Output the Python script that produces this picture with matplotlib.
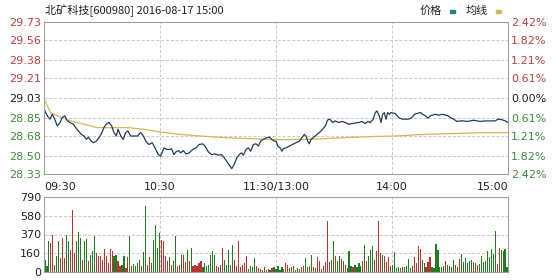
import numpy as np
import matplotlib
matplotlib.use('Agg')
import matplotlib.pyplot as plt
from matplotlib.patches import Rectangle

plt.rcParams['font.family'] = ['DejaVu Sans']

title = '北矿科技[600980] 2016-08-17 15:00'
pre_close = 29.03

# 分时价格（分钟, 价格）
price_min = [0, 1.7, 3.1, 4.3, 5.5, 6.9, 8.3, 9.5, 10.7, 12.1, 13.4, 15.2, 16.4, 17.8, 19.3,
             20.7, 21.9, 22.9, 24.1, 25.5, 27.1, 28.4, 29.7, 31.0, 32.4, 33.6, 35.0, 36.2, 37.4,
             38.3, 39.7, 41.0, 42.2, 43.4, 44.8, 46.5, 48.3, 50.0, 51.4, 52.6, 54.3, 56.0, 57.4,
             59.1, 60.3,
             62.1, 63.4, 64.8, 66.0, 67.2, 68.3, 69.5, 70.7, 72.1, 73.4, 75.2, 76.9, 78.6, 80.3,
             82.1, 83.3, 85.0, 86.7, 88.4, 90.2, 91.9, 93.3, 94.5, 95.9, 97.1, 98.3, 99.7, 101.0,
             102.2, 103.1, 104.5, 105.7, 106.9, 108.3, 109.7, 110.9, 112.1, 113.4, 115.2, 116.5,
             117.8, 119.0,
             120.0, 120.9, 122.1, 123.1, 123.8, 125.2, 126.9, 128.6, 130.3, 132.1, 133.4, 134.7,
             135.5, 136.4, 137.2, 138.1, 139.3, 140.7, 142.4, 144.1, 145.5, 146.7, 147.9, 149.3,
             150.7, 152.4, 154.1, 155.9, 157.6, 159.3, 161.0, 162.8, 164.5, 166.2, 167.4, 168.8,
             170.3, 171.4, 172.2, 173.4, 174.3, 175.2, 176.0, 176.9, 177.8, 178.6, 179.5,
             181.7, 183.4, 185.2, 186.9, 188.6, 190.3, 191.7, 192.9, 194.7, 195.9, 197.2, 198.6,
             199.8, 201.0, 202.4, 204.1, 205.9, 207.6, 209.0, 210.2, 211.9, 213.6, 215.3, 217.1,
             218.8, 220.5, 222.2, 224.0, 225.7, 228.3, 230.9, 233.4, 234.8, 236.5, 238.6, 240.0]
price_val = [28.93, 28.866, 28.835, 28.88, 28.835, 28.773, 28.804, 28.85, 28.866, 28.819, 28.804,
             28.788, 28.757, 28.726, 28.695, 28.68, 28.649, 28.67, 28.64, 28.618, 28.633, 28.664,
             28.701, 28.757, 28.794, 28.804, 28.773, 28.711, 28.68, 28.742, 28.68, 28.649, 28.711,
             28.726, 28.68, 28.68, 28.68, 28.711, 28.68, 28.633, 28.602, 28.618, 28.571, 28.509,
             28.494,
             28.571, 28.556, 28.556, 28.562, 28.509, 28.534, 28.546, 28.525, 28.546, 28.515, 28.525,
             28.556, 28.571, 28.602, 28.608, 28.587, 28.534, 28.509, 28.515, 28.503, 28.509, 28.478,
             28.447, 28.41, 28.379, 28.417, 28.478, 28.509, 28.525, 28.503, 28.556, 28.571, 28.54,
             28.602, 28.608, 28.587, 28.633, 28.649, 28.664, 28.67, 28.649, 28.633,
             28.633, 28.587, 28.571, 28.54, 28.565, 28.571, 28.587, 28.602, 28.618, 28.633, 28.664,
             28.695, 28.68, 28.633, 28.608, 28.649, 28.664, 28.686, 28.711, 28.742, 28.773, 28.827,
             28.835, 28.804, 28.819, 28.804, 28.814, 28.804, 28.788, 28.794, 28.8, 28.804, 28.814,
             28.794, 28.814, 28.804, 28.835, 28.896, 28.911, 28.866, 28.804, 28.88, 28.896, 28.835,
             28.896, 28.88, 28.896,
             28.887, 28.85, 28.835, 28.835, 28.835, 28.85, 28.88, 28.887, 28.896, 28.88, 28.866,
             28.844, 28.866, 28.872, 28.88, 28.872, 28.88, 28.872, 28.866, 28.85, 28.835, 28.814,
             28.819, 28.819, 28.814, 28.819, 28.825, 28.819, 28.814, 28.819, 28.819, 28.819, 28.835,
             28.832, 28.819, 28.804]

# 均价线
avg_min = [0, 1.7, 3.4, 6.9, 13.8, 20.7, 27.6, 34.5, 43.1, 51.7, 60.0, 70.3, 80.7, 94.5, 108.3,
           120.0, 137.2, 154.5, 171.7, 181.7, 197.2, 214.5, 226.6, 240.0]
avg_val = [29.021, 28.959, 28.896, 28.866, 28.819, 28.788, 28.757, 28.757, 28.757, 28.742, 28.717,
           28.695, 28.68, 28.664, 28.655, 28.646, 28.649, 28.664, 28.676, 28.68, 28.695, 28.704,
           28.711, 28.711]

# 成交量
vols = [130, 67, 322, 305, 385, 77, 172, 322, 147, 357,
        147, 392, 322, 228, 648, 200, 330, 417, 357, 130,
        322, 347, 112, 182, 217, 382, 200, 165, 172, 130,
        242, 165, 95, 242, 217, 165, 182, 112, 60, 77,
        165, 42, 158, 375, 67, 88, 67, 95, 130, 67,
        207, 697, 77, 158, 95, 340, 497, 252, 410, 340,
        322, 172, 112, 158, 77, 112, 382, 67, 77, 182,
        182, 102, 228, 112, 252, 60, 77, 67, 95, 112,
        53, 95, 67, 77, 182, 217, 182, 67, 53, 77,
        252, 130, 77, 235, 77, 287, 123, 67, 322, 53,
        77, 95, 165, 32, 67, 53, 147, 67, 42, 32,
        25, 53, 25, 32, 18, 42, 53, 32, 67, 25, 53,
        32, 95, 77, 42, 53, 67, 25, 42, 32, 53,
        67, 147, 53, 60, 182, 53, 42, 158, 112, 32,
        67, 102, 532, 102, 130, 322, 165, 112, 172, 137,
        112, 77, 42, 217, 60, 53, 77, 53, 95, 67,
        112, 287, 112, 165, 235, 270, 130, 217, 542, 200,
        182, 165, 102, 158, 60, 77, 207, 42, 53, 42,
        53, 53, 60, 137, 42, 67, 158, 95, 270, 242,
        130, 95, 53, 102, 158, 53, 42, 297, 235, 53,
        53, 67, 112, 77, 67, 53, 130, 77, 53, 137,
        193, 102, 147, 95, 112, 130, 102, 95, 77, 88,
        165, 102, 112, 217, 158, 242, 193, 427, 88, 252,
        235, 217, 242, 53]
vol_dir = ('gggrrgggrr' 'rggrrrgggr' 'ggrgggrrrr' 'rrrrrggrrg' 'grrgrggggr' 'ggrrgggggr'
           'rrrgrggrrg' 'rrgrgrrrrr' 'gggggggrrg' 'rgggrgrrrr' 'rrrggggrrr' 'rggrgrggggg'
           'grrgrgrggr' 'rggrgrgrrg' 'rrrrggrggr' 'grgggrgggg' 'rgrgggrrrr' 'grrrgggggr'
           'gggggrrrrr' 'grgrrggggg' 'ggrggggrgr' 'ggggggrgrg' 'ggggggggrr' 'gggg')

price_ticks = [29.73, 29.56, 29.38, 29.21, 29.03, 28.85, 28.68, 28.50, 28.33]
pct_labels = ['2.42%', '1.82%', '1.21%', '0.61%', '0.00%', '0.61%', '1.21%', '1.82%', '2.42%']
vol_ticks = [0, 197.5, 395, 592.5, 790]
vol_labels = ['0', '160', '370', '580', '790']
time_ticks = [0, 60, 120, 180, 240]
time_labels = ['09:30', '10:30', '11:30/13:00', '14:00', '15:00']

RED = '#b84040'
GREEN = '#3f8a3f'
BLACK = '#222222'
GRID = '#c8c8c8'
SPINE = '#a0a0a0'


def label_color(i):
    if i < 4:
        return RED
    if i == 4:
        return BLACK
    return GREEN


fig = plt.figure(figsize=(5.6, 2.8), dpi=100)
ax = fig.add_axes([44 / 560, 1 - 174 / 280, 464 / 560, 152 / 280])
axv = fig.add_axes([44 / 560, 1 - 272 / 280, 464 / 560, 75 / 280])

for a in (ax, axv):
    for s in a.spines.values():
        s.set_color(SPINE)
        s.set_linewidth(0.8)
    a.set_xlim(0, 240)
    a.set_xticks(time_ticks)
    a.grid(True, color=GRID, linestyle=(0, (3, 2)), linewidth=0.7)
    a.set_axisbelow(True)
    a.tick_params(length=0, labelsize=8)

# 价格
ax.plot(avg_min, avg_val, color='#d8b55a', lw=0.9)
ax.plot(price_min, price_val, color='#1f3d5a', lw=0.9)
ax.set_ylim(28.33, 29.73)
ax.set_yticks(price_ticks)
ax.set_yticklabels([f'{t:.2f}' for t in price_ticks])
for i, lab in enumerate(ax.get_yticklabels()):
    lab.set_color(label_color(i))
ax.tick_params(axis='y', pad=2)
ax.set_xticklabels(time_labels)
ax.tick_params(axis='x', pad=6, labelcolor=BLACK)
ha = ['left', 'center', 'center', 'center', 'right']
for lab, h in zip(ax.get_xticklabels(), ha):
    lab.set_ha(h)

axr = ax.twinx()
axr.set_ylim(28.33, 29.73)
axr.set_yticks(price_ticks)
axr.set_yticklabels(pct_labels)
axr.tick_params(length=0, labelsize=8, pad=2)
for s in axr.spines.values():
    s.set_visible(False)
for i, lab in enumerate(axr.get_yticklabels()):
    lab.set_color(label_color(i))

# 成交量
vx = np.linspace(0.5, 239.5, len(vols))
vcol = ['#c03030' if c == 'r' else '#237a23' for c in vol_dir]
axv.bar(vx, vols, width=0.6, color=vcol, linewidth=0, antialiased=False)
axv.set_ylim(0, 790)
axv.set_yticks(vol_ticks)
axv.set_yticklabels(vol_labels)
axv.tick_params(axis='y', pad=2, labelcolor=BLACK)
axv.set_xticklabels([])

# 标题和图例
cjk = ['Noto Sans CJK SC', 'DejaVu Sans']
fig.text(45 / 560, 1 - 11 / 280, title, family=cjk, fontsize=8, va='center', color=BLACK)
fig.text(420 / 560, 1 - 11 / 280, '价格', family=cjk, fontsize=8, va='center', color=BLACK)
fig.text(466 / 560, 1 - 11 / 280, '均线', family=cjk, fontsize=8, va='center', color=BLACK)
fig.patches.append(Rectangle((450 / 560, 1 - 12.5 / 280), 5 / 560, 3 / 280,
                             transform=fig.transFigure, color='#2a8080'))
fig.patches.append(Rectangle((496 / 560, 1 - 12.5 / 280), 5 / 560, 3 / 280,
                             transform=fig.transFigure, color='#d8b55a'))

fig.savefig('out.png', dpi=100)
